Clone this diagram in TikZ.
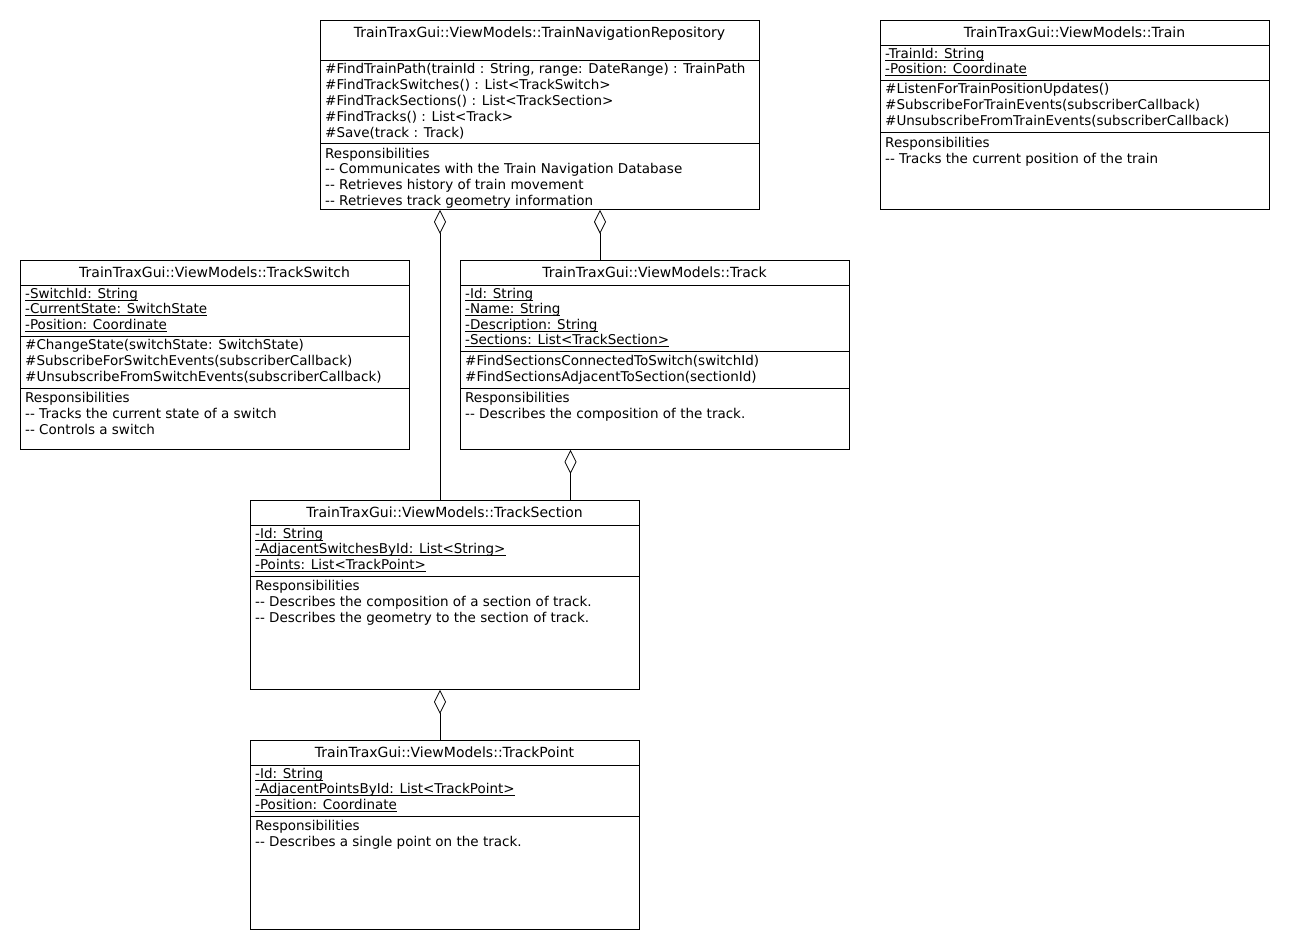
\documentclass[tikz,border=0pt]{standalone}
\usepackage{fontspec}
\setmainfont{DejaVu Sans}[Ligatures=NoCommon]
\usetikzlibrary{arrows.meta}
\tikzset{
  classbox/.style={draw, line width=0.8pt, anchor=north west, inner sep=0pt},
  sepline/.style={line width=0.8pt},
  ttl/.style={anchor=mid, inner sep=0pt, yshift=-2pt, font=\fontsize{14}{16}\selectfont},
  txt/.style={anchor=mid west, inner sep=0pt, yshift=-2pt, font=\fontsize{13.5}{16}\selectfont},
  agg/.style={line width=0.8pt, {Diamond[open, length=24pt, width=12pt]}-},
}
\newcommand{\rowtext}[4]{\node[txt] (#1) at (#2,#3) {#4};}
% static attributes are underlined with a solid rule
\newsavebox{\attrbox}
\newcommand{\attr}[1]{\sbox{\attrbox}{#1}\usebox{\attrbox}\llap{\rule[-2.2pt]{\wd\attrbox}{0.9pt}}}
\begin{document}
\begin{tikzpicture}[x=1pt, y=-1pt]
\useasboundingbox (0,0) rectangle (1290,950);

% TrainNavigationRepository
\node[classbox, minimum width=439pt, minimum height=189pt] (repo) at (320,20) {};
\node[ttl] (repoT) at (539.5,33) {TrainTraxGui::ViewModels::TrainNavigationRepository};
\draw[sepline] (320,60) -- (759,60);
\draw[sepline] (320,143) -- (759,143);
\rowtext{r1}{325}{69}{\#FindTrainPath(trainId : String, range: DateRange) : TrainPath}
\rowtext{r2}{325}{85}{\#FindTrackSwitches() : List<TrackSwitch>}
\rowtext{r3}{325}{101}{\#FindTrackSections() : List<TrackSection>}
\rowtext{r4}{325}{117}{\#FindTracks() : List<Track>}
\rowtext{r5}{325}{133}{\#Save(track : Track)}
\rowtext{r6}{325}{154}{Responsibilities}
\rowtext{r7}{325}{169}{-{}- Communicates with the Train Navigation Database}
\rowtext{r8}{325}{185}{-{}- Retrieves history of train movement}
\rowtext{r9}{325}{201}{-{}- Retrieves track geometry information}

% Train
\node[classbox, minimum width=389pt, minimum height=189pt] (train) at (880,20) {};
\node[ttl] (trainT) at (1074.5,33) {TrainTraxGui::ViewModels::Train};
\draw[sepline] (880,45) -- (1269,45);
\draw[sepline] (880,80) -- (1269,80);
\draw[sepline] (880,132) -- (1269,132);
\rowtext{t1}{885}{54}{\attr{-TrainId: String}}
\rowtext{t2}{885}{69}{\attr{-Position: Coordinate}}
\rowtext{t3}{885}{89}{\#ListenForTrainPositionUpdates()}
\rowtext{t4}{885}{105}{\#SubscribeForTrainEvents(subscriberCallback)}
\rowtext{t5}{885}{121}{\#UnsubscribeFromTrainEvents(subscriberCallback)}
\rowtext{t6}{885}{143}{Responsibilities}
\rowtext{t7}{885}{159}{-{}- Tracks the current position of the train}

% TrackSwitch
\node[classbox, minimum width=389pt, minimum height=189pt] (switch) at (20,260) {};
\node[ttl] (switchT) at (214.5,273) {TrainTraxGui::ViewModels::TrackSwitch};
\draw[sepline] (20,285) -- (409,285);
\draw[sepline] (20,336) -- (409,336);
\draw[sepline] (20,388) -- (409,388);
\rowtext{s1}{25}{294}{\attr{-SwitchId: String}}
\rowtext{s2}{25}{309}{\attr{-CurrentState: SwitchState}}
\rowtext{s3}{25}{325}{\attr{-Position: Coordinate}}
\rowtext{s4}{25}{345}{\#ChangeState(switchState: SwitchState)}
\rowtext{s5}{25}{361}{\#SubscribeForSwitchEvents(subscriberCallback)}
\rowtext{s6}{25}{377}{\#UnsubscribeFromSwitchEvents(subscriberCallback)}
\rowtext{s7}{25}{398}{Responsibilities}
\rowtext{s8}{25}{414}{-{}- Tracks the current state of a switch}
\rowtext{s9}{25}{430}{-{}- Controls a switch}

% Track
\node[classbox, minimum width=389pt, minimum height=189pt] (track) at (460,260) {};
\node[ttl] (trackT) at (654.5,273) {TrainTraxGui::ViewModels::Track};
\draw[sepline] (460,285) -- (849,285);
\draw[sepline] (460,351) -- (849,351);
\draw[sepline] (460,388) -- (849,388);
\rowtext{k1}{465}{294}{\attr{-Id: String}}
\rowtext{k2}{465}{309}{\attr{-Name: String}}
\rowtext{k3}{465}{325}{\attr{-Description: String}}
\rowtext{k4}{465}{340}{\attr{-Sections: List<TrackSection>}}
\rowtext{k5}{465}{361}{\#FindSectionsConnectedToSwitch(switchId)}
\rowtext{k6}{465}{377}{\#FindSectionsAdjacentToSection(sectionId)}
\rowtext{k7}{465}{398}{Responsibilities}
\rowtext{k8}{465}{414}{-{}- Describes the composition of the track.}

% TrackSection
\node[classbox, minimum width=389pt, minimum height=189pt] (section) at (250,500) {};
\node[ttl] (sectionT) at (444.5,513) {TrainTraxGui::ViewModels::TrackSection};
\draw[sepline] (250,525) -- (639,525);
\draw[sepline] (250,576) -- (639,576);
\rowtext{c1}{255}{534}{\attr{-Id: String}}
\rowtext{c2}{255}{549}{\attr{-AdjacentSwitchesById: List<String>}}
\rowtext{c3}{255}{565}{\attr{-Points: List<TrackPoint>}}
\rowtext{c4}{255}{586}{Responsibilities}
\rowtext{c5}{255}{602}{-{}- Describes the composition of a section of track.}
\rowtext{c6}{255}{618}{-{}- Describes the geometry to the section of track.}

% TrackPoint
\node[classbox, minimum width=389pt, minimum height=189pt] (point) at (250,740) {};
\node[ttl] (pointT) at (444.5,753) {TrainTraxGui::ViewModels::TrackPoint};
\draw[sepline] (250,765) -- (639,765);
\draw[sepline] (250,816) -- (639,816);
\rowtext{p1}{255}{774}{\attr{-Id: String}}
\rowtext{p2}{255}{789}{\attr{-AdjacentPointsById: List<TrackPoint>}}
\rowtext{p3}{255}{805}{\attr{-Position: Coordinate}}
\rowtext{p4}{255}{826}{Responsibilities}
\rowtext{p5}{255}{842}{-{}- Describes a single point on the track.}

% aggregations
\draw[agg] ([xshift=120pt]repo.south west) -- ([xshift=190pt]section.north west);
\draw[agg] ([xshift=280pt]repo.south west) -- ([xshift=140pt]track.north west);
\draw[agg] ([xshift=110.5pt]track.south west) -- ([xshift=320.5pt]section.north west);
\draw[agg] ([xshift=190pt]section.south west) -- ([xshift=190pt]point.north west);
\end{tikzpicture}
\end{document}
